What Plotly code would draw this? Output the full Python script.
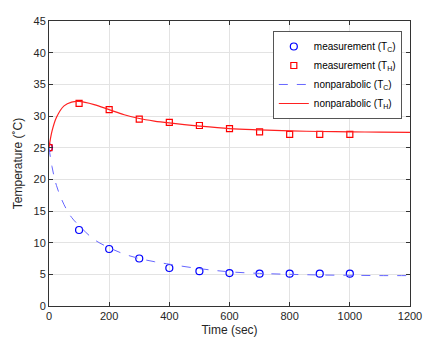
import plotly.graph_objects as go

# Measured temperatures
t_meas = [0, 100, 200, 300, 400, 500, 600, 700, 800, 900, 1000]
tc_meas = [25, 12, 9, 7.5, 6, 5.5, 5.2, 5.1, 5.1, 5.1, 5.1]
th_meas = [25, 32, 31, 29.5, 29, 28.5, 28, 27.5, 27.1, 27.1, 27.1]

# Nonparabolic model curves
t_model = [0, 10, 25, 50, 75, 100, 150, 200, 250, 300, 350, 400, 500, 600, 700, 800, 900, 1000, 1100, 1200]
tc_model = [25, 22, 19, 16, 14, 12.7, 10.5, 9.2, 8.2, 7.5, 7.0, 6.6, 5.9, 5.4, 5.15, 5.0, 4.9, 4.85, 4.8, 4.8]
th_model = [25, 27.6, 29.8, 31.6, 32.2, 32.3, 31.8, 31.0, 30.2, 29.6, 29.2, 28.9, 28.4, 28.0, 27.8, 27.65, 27.55, 27.5, 27.45, 27.4]

fig = go.Figure()
fig.add_trace(go.Scatter(
    x=t_meas, y=tc_meas, mode="markers", name="measurement (T<sub>C</sub>)",
    marker=dict(symbol="circle-open", color="#0000ff", size=7, line=dict(width=1.2)),
))
fig.add_trace(go.Scatter(
    x=t_meas, y=th_meas, mode="markers", name="measurement (T<sub>H</sub>)",
    marker=dict(symbol="square-open", color="#ff0000", size=6, line=dict(width=1.2)),
))
fig.add_trace(go.Scatter(
    x=t_model, y=tc_model, mode="lines", name="nonparabolic (T<sub>C</sub>)",
    line=dict(color="#6666ff", width=1, dash="dash", shape="spline"),
))
fig.add_trace(go.Scatter(
    x=t_model, y=th_model, mode="lines", name="nonparabolic (T<sub>H</sub>)",
    line=dict(color="#ff2020", width=1.2, shape="spline"),
))

axis_common = dict(
    showgrid=True, gridcolor="#e3e3e3", gridwidth=1,
    showline=True, linecolor="#333333", linewidth=1, mirror="allticks",
    ticks="inside", ticklen=4, tickcolor="#333333",
    zeroline=False, tickfont=dict(size=11, color="#262626"),
)

fig.update_layout(
    width=433, height=348,
    margin=dict(l=49, r=23, t=21, b=42),
    paper_bgcolor="white", plot_bgcolor="white",
    font=dict(family="Liberation Sans, Arial, sans-serif", color="#262626"),
    xaxis=dict(range=[0, 1200], dtick=200,
               title=dict(text="Time (sec)", font=dict(size=12), standoff=4), **axis_common),
    yaxis=dict(range=[0, 45], dtick=5,
               title=dict(text="Temperature (˚C)", font=dict(size=12), standoff=8), **axis_common),
    legend=dict(x=0.62, y=0.965, xanchor="left", yanchor="top",
                bgcolor="white", bordercolor="#555555", borderwidth=1,
                font=dict(size=10, color="#000000"), tracegroupgap=0),
    showlegend=True,
)

fig.write_html("out.html")
